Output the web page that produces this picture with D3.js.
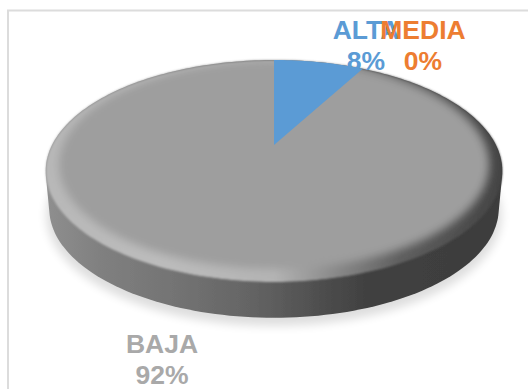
<!DOCTYPE html>
<html>
<head>
<meta charset="utf-8">
<script src="https://cdn.jsdelivr.net/npm/d3@7"></script>
<style>
html,body{margin:0;padding:0;background:#fff;overflow:hidden}
text{font-family:"Liberation Sans",Arial,sans-serif;font-weight:700;font-size:26.5px;text-anchor:middle}
</style>
</head>
<body>
<svg id="chart" width="528" height="389"></svg>
<script>
const categories = ["ALTA", "MEDIA", "BAJA"];
const shares = [8, 0, 92];
const sliceColors = ["#5b9bd5", "#ed7d31", "#9e9e9e"];
const labelColors = ["#5b9bd5", "#ed7d31", "#a9a9a9"];
const labelAnchors = [[366, 39], [423, 39], [162, 353]];

const W = 528, H = 389;
const svg = d3.select("#chart");

// Tilted-disc projection: the near edge of the disc is nearer the viewer,
// so its pivot sits above the middle of the outline.
const pivot = [274, 145];
const spreadX = 222, spreadY = 104.9, tilt = -0.234, thickness = 38.5, baseScale = 0.985;
function project(angle, r = 1, dy = 0) {
  const u = r * Math.sin(angle), v = -r * Math.cos(angle);
  const w = 1 + tilt * v;
  return [pivot[0] + spreadX * u / w, pivot[1] + spreadY * v / w + dy];
}
const TAU = Math.PI * 2;
const steps = d3.range(0, 241).map(i => i / 240 * TAU);
const outline = d3.line().curve(d3.curveLinearClosed);
const ring = (r = 1, dy = 0) => steps.map(a => project(a, r, dy));
const disc = (r = 1, dy = 0) => outline(ring(r, dy));

function wedge(s, r = 1) {
  const n = Math.max(2, Math.ceil((s.endAngle - s.startAngle) * 40));
  const rim = d3.range(n + 1).map(i => project(s.startAngle + (s.endAngle - s.startAngle) * i / n, r));
  return outline([pivot, ...rim]);
}

const pie = d3.pie().sort(null).value(d => d);
const slices = pie(shares);

const defs = svg.append("defs");
const blur = (id, sd) => defs.append("filter").attr("id", id)
  .attr("x", "-10%").attr("y", "-10%").attr("width", "120%").attr("height", "120%")
  .append("feGaussianBlur").attr("stdDeviation", sd);
blur("shadowBlur", 5);
blur("bevelBlur", 4.2);
blur("edgeBlur", 0.6);
blur("faceBlur", 1.1);

function ramp(id, stops) {
  const g = defs.append("linearGradient").attr("id", id)
    .attr("gradientUnits", "userSpaceOnUse")
    .attr("x1", 45).attr("x2", 502).attr("y1", 0).attr("y2", 0);
  stops.forEach(([o, c]) => g.append("stop").attr("offset", o).attr("stop-color", c));
}
ramp("wallShade", [[0, "#8f8f8f"], [0.12, "#808080"], [0.3, "#727272"], [0.45, "#646464"],
  [0.55, "#565656"], [0.63, "#4a4a4a"], [0.7, "#414141"], [1, "#3c3c3c"]]);
ramp("rimShade", [[0, "#b8b8b8"], [0.25, "#bcbcbc"], [0.5, "#b4b4b4"], [0.62, "#8e8e8e"],
  [0.78, "#5e5e5e"], [1, "#444444"]]);

defs.append("clipPath").attr("id", "faceClip").append("path").attr("d", disc());

// Chart frame: only the top and left borders show inside the window
svg.append("path")
  .attr("d", `M${W},10.5H8V${H}`)
  .attr("fill", "none").attr("stroke", "#dcdcdc").attr("stroke-width", 2);

// Soft ground shadow under the disc
svg.append("path").attr("d", disc(baseScale + 0.012, thickness + 6))
  .attr("fill", "#000").attr("opacity", 0.13).attr("filter", "url(#shadowBlur)");

// Side wall: the hull of the top outline and the slightly smaller base outline
const wall = d3.polygonHull([...ring(), ...ring(baseScale, thickness)]);
svg.append("path").attr("d", outline(wall))
  .attr("fill", "url(#wallShade)").attr("filter", "url(#edgeBlur)");

// Top face: bevelled rim, flat centre, then the small slices over it
const face = svg.append("g").attr("filter", "url(#faceBlur)")
  .append("g").attr("clip-path", "url(#faceClip)");
face.append("path").attr("d", disc()).attr("fill", "url(#rimShade)");
face.append("path").attr("d", disc(0.945, -3.5))
  .attr("fill", sliceColors[2]).attr("filter", "url(#bevelBlur)");

svg.selectAll("path.slice")
  .data(slices.filter((s, i) => i !== 2))
  .join("path")
  .attr("class", "slice")
  .attr("d", d => wedge(d))
  .attr("fill", d => sliceColors[d.index]);

// Category and percentage labels
const labels = svg.selectAll("g.label")
  .data(categories)
  .join("g")
  .attr("class", "label")
  .attr("fill", (d, i) => labelColors[i]);
labels.append("text").attr("x", (d, i) => labelAnchors[i][0]).attr("y", (d, i) => labelAnchors[i][1]).text(d => d);
labels.append("text").attr("x", (d, i) => labelAnchors[i][0]).attr("y", (d, i) => labelAnchors[i][1] + 30.5)
  .text((d, i) => shares[i] + "%");
</script>
</body>
</html>
